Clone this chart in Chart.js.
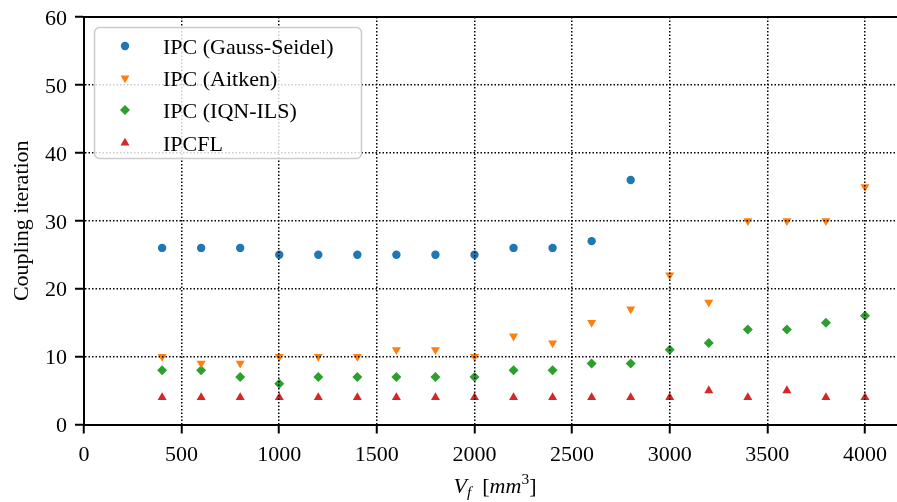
<!DOCTYPE html>
<html>
<head>
<meta charset="utf-8">
<script src="https://cdn.jsdelivr.net/npm/chart.js@4.4.0/dist/chart.umd.min.js"></script>
<style>
  html, body { margin: 0; padding: 0; background: #fff; }
</style>
</head>
<body>
<canvas id="chart" width="897" height="502"></canvas>
<script>
// coupling iterations per fluid volume V_f
const xTicks = [0, 500, 1000, 1500, 2000, 2500, 3000, 3500, 4000];
const yTicks = [0, 10, 20, 30, 40, 50, 60];

const vfGauss = [400, 600, 800, 1000, 1200, 1400, 1600, 1800, 2000, 2200, 2400, 2600, 2800];
const itGauss = [26, 26, 26, 25, 25, 25, 25, 25, 25, 26, 26, 27, 36];

const vfAll = [400, 600, 800, 1000, 1200, 1400, 1600, 1800, 2000, 2200, 2400, 2600, 2800, 3000, 3200, 3400, 3600, 3800, 4000];
const itAitken = [10, 9, 9, 10, 10, 10, 11, 11, 10, 13, 12, 15, 17, 22, 18, 30, 30, 30, 35];
const itIqn    = [8, 8, 7, 6, 7, 7, 7, 7, 7, 8, 8, 9, 9, 11, 12, 14, 14, 15, 16];
const itIpcfl  = [4, 4, 4, 4, 4, 4, 4, 4, 4, 4, 4, 4, 4, 4, 5, 4, 5, 4, 4];

const serif = "'Liberation Serif', 'Times New Roman', serif";

function pts(xs, ys) {
  return xs.map((x, i) => ({x: x, y: ys[i]}));
}

function series(label, xs, ys, color, style, radius, rotation) {
  return {
    label: label,
    data: pts(xs, ys),
    showLine: false,
    backgroundColor: color,
    borderColor: color,
    pointStyle: style,
    pointRadius: radius,
    pointRotation: rotation || 0,
    pointBorderWidth: 0,
    pointHoverRadius: radius
  };
}

// legend box drawn inside the plot, top left
const boxLegend = {
  id: 'boxLegend',
  afterDraw(chart) {
    const ctx = chart.ctx;
    const bx = 94.5, by = 27.5, bw = 267, bh = 131, r = 5;
    ctx.save();
    ctx.beginPath();
    ctx.moveTo(bx + r, by);
    ctx.arcTo(bx + bw, by, bx + bw, by + bh, r);
    ctx.arcTo(bx + bw, by + bh, bx, by + bh, r);
    ctx.arcTo(bx, by + bh, bx, by, r);
    ctx.arcTo(bx, by, bx + bw, by, r);
    ctx.closePath();
    ctx.fillStyle = 'rgba(255,255,255,0.8)';
    ctx.fill();
    ctx.strokeStyle = '#cccccc';
    ctx.lineWidth = 1.5;
    ctx.stroke();

    const rows = [46, 78, 110, 143];
    chart.data.datasets.forEach((ds, i) => {
      const y = rows[i];
      ctx.fillStyle = ds.backgroundColor;
      Chart.helpers.drawPoint(ctx, {
        pointStyle: ds.pointStyle,
        radius: ds.pointRadius,
        rotation: ds.pointRotation,
        borderWidth: 0
      }, 125, y);
      ctx.fillStyle = '#000';
      ctx.font = '22px ' + serif;
      ctx.textBaseline = 'alphabetic';
      ctx.textAlign = 'left';
      ctx.fillText(ds.label, 163, y + 7.5);
    });
    ctx.restore();
  }
};

// top spine and the x axis label with sub/superscript
const frameAndLabel = {
  id: 'frameAndLabel',
  afterDraw(chart) {
    const ctx = chart.ctx;
    const a = chart.chartArea;
    ctx.save();
    ctx.strokeStyle = '#000';
    ctx.lineWidth = 2;
    ctx.beginPath();
    ctx.moveTo(a.left - 1, a.top);
    ctx.lineTo(a.right, a.top);
    ctx.stroke();

    const parts = [
      {t: 'V', f: 'italic 22px ' + serif, dy: 0},
      {t: 'f', f: 'italic 15.5px ' + serif, dy: 4},
      {t: '  [', f: '22px ' + serif, dy: 0},
      {t: 'mm', f: 'italic 22px ' + serif, dy: 0},
      {t: '3', f: '15.5px ' + serif, dy: -9},
      {t: ']', f: '22px ' + serif, dy: 0}
    ];
    let total = 0;
    parts.forEach(p => { ctx.font = p.f; p.w = ctx.measureText(p.t).width; total += p.w; });
    let x = 495 - total / 2;
    const base = 493;
    ctx.fillStyle = '#000';
    ctx.textBaseline = 'alphabetic';
    ctx.textAlign = 'left';
    parts.forEach(p => {
      ctx.font = p.f;
      ctx.fillText(p.t, x, base + p.dy);
      x += p.w;
    });
    ctx.restore();
  }
};

const tickFont = { size: 22, family: serif };
const gridOpts = {
  color: '#000', lineWidth: 1.5, tickLength: 9, tickColor: '#000', tickWidth: 2,
  tickBorderDash: [], z: 1
};
const borderOpts = { color: '#000', width: 2, dash: [1.5, 2], z: 2 };

new Chart(document.getElementById('chart'), {
  type: 'scatter',
  data: {
    datasets: [
      series('IPC (Gauss-Seidel)', vfGauss, itGauss, '#1f77b4', 'circle', 4.2),
      series('IPC (Aitken)', vfAll, itAitken, '#ff7f0e', 'triangle', 5.2, 180),
      series('IPC (IQN-ILS)', vfAll, itIqn, '#2ca02c', 'rectRot', 5),
      series('IPCFL', vfAll, itIpcfl, '#d62728', 'triangle', 5.2)
    ]
  },
  options: {
    responsive: false,
    devicePixelRatio: 1,
    animation: false,
    // no right spine: the plot runs up to the canvas edge
    layout: { autoPadding: false, padding: { top: 17, right: 0, bottom: 0, left: 0 } },
    plugins: { legend: { display: false }, tooltip: { enabled: false } },
    scales: {
      x: {
        type: 'linear', min: 0, max: 4164,
        afterBuildTicks: s => { s.ticks = xTicks.map(v => ({value: v})); },
        afterFit: s => { s.height = 77.5; s.paddingLeft = 0; s.paddingRight = 0; },
        ticks: { font: tickFont, color: '#000', maxRotation: 0, autoSkip: false, padding: 9,
                 callback: v => String(v) },
        grid: gridOpts,
        border: borderOpts
      },
      y: {
        min: 0, max: 60,
        afterBuildTicks: s => { s.ticks = yTicks.map(v => ({value: v})); },
        afterFit: s => { s.width = 84; s.paddingTop = 0; s.paddingBottom = 0; },
        ticks: { font: tickFont, color: '#000', autoSkip: false, padding: 8, labelOffset: 2,
                 callback: v => String(v) },
        grid: gridOpts,
        border: borderOpts,
        title: {
          display: true, text: 'Coupling iteration', color: '#000',
          font: { size: 22, family: serif }, padding: { top: 9, bottom: 0 }
        }
      }
    }
  },
  plugins: [boxLegend, frameAndLabel]
});
</script>
</body>
</html>
